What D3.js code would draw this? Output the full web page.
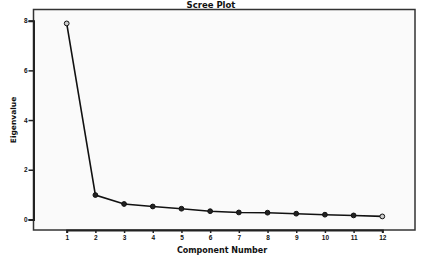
<!DOCTYPE html>
<html>
<head>
<meta charset="utf-8">
<script src="https://cdn.jsdelivr.net/npm/d3@7"></script>
<style>
  body { margin: 0; background: #fff; }
  svg { display: block; font-family: "DejaVu Sans", "Liberation Sans", sans-serif; }
</style>
</head>
<body>
<div id="chart"></div>
<script>
const components = [1, 2, 3, 4, 5, 6, 7, 8, 9, 10, 11, 12];
const eigenvalues = [7.89, 0.98, 0.62, 0.52, 0.43, 0.33, 0.28, 0.27, 0.23, 0.19, 0.16, 0.12];
const yTicks = [0, 2, 4, 6, 8];

const width = 422, height = 259;
const frame = { left: 33.5, top: 9.5, right: 415, bottom: 230 };

const svg = d3.select("#chart").append("svg")
    .attr("width", width)
    .attr("height", height);

// plot area
svg.append("rect")
    .attr("x", frame.left)
    .attr("y", frame.top)
    .attr("width", frame.right - frame.left)
    .attr("height", frame.bottom - frame.top)
    .attr("fill", "#fafafa")
    .attr("stroke", "#333")
    .attr("stroke-width", 1.5);

const x = d3.scaleLinear().domain([1, 12]).range([66.7, 382.3]);
const y = d3.scaleLinear().domain([0, 8]).range([219.4, 20.7]);

// axes
const xAxis = svg.append("g")
    .attr("transform", `translate(0,${frame.bottom})`)
    .call(d3.axisBottom(x).tickValues(components).tickSize(3).tickPadding(2).tickFormat(d3.format("d")));
const yAxis = svg.append("g")
    .attr("transform", `translate(${frame.left},0)`)
    .call(d3.axisLeft(y).tickValues(yTicks).tickSize(5).tickPadding(1).tickFormat(d3.format("d")));

[xAxis, yAxis].forEach(a => {
    a.select(".domain").attr("stroke", "#222").attr("stroke-width", 2);
    a.selectAll(".tick line").attr("stroke", "#222").attr("stroke-width", 1.5);
    a.selectAll(".tick text")
        .attr("fill", "#111")
        .style("font-size", "6.5px")
        .style("font-weight", "bold");
});

// line + points
const line = d3.line()
    .x((d, i) => x(components[i]))
    .y(d => y(d));

svg.append("path")
    .datum(eigenvalues)
    .attr("d", line)
    .attr("fill", "none")
    .attr("stroke", "#111")
    .attr("stroke-width", 1.6);

svg.selectAll("circle.pt")
    .data(eigenvalues)
    .join("circle")
    .attr("class", "pt")
    .attr("cx", (d, i) => x(components[i]))
    .attr("cy", d => y(d))
    .attr("r", 2.4)
    .attr("fill", (d, i) => (i === 0 || i === eigenvalues.length - 1) ? "#ccc" : "#222")
    .attr("stroke", "#111")
    .attr("stroke-width", 1);

// titles
svg.append("text")
    .attr("x", 211)
    .attr("y", 7.5)
    .attr("text-anchor", "middle")
    .style("font-size", "8.5px")
    .style("font-weight", "bold")
    .attr("fill", "#111")
    .text("Scree Plot");

svg.append("text")
    .attr("x", 222)
    .attr("y", 253)
    .attr("text-anchor", "middle")
    .style("font-size", "8px")
    .style("font-weight", "bold")
    .attr("fill", "#111")
    .text("Component Number");

svg.append("text")
    .attr("transform", "translate(16,120) rotate(-90)")
    .attr("text-anchor", "middle")
    .style("font-size", "7.5px")
    .style("font-weight", "bold")
    .attr("fill", "#111")
    .text("Eigenvalue");
</script>
</body>
</html>
